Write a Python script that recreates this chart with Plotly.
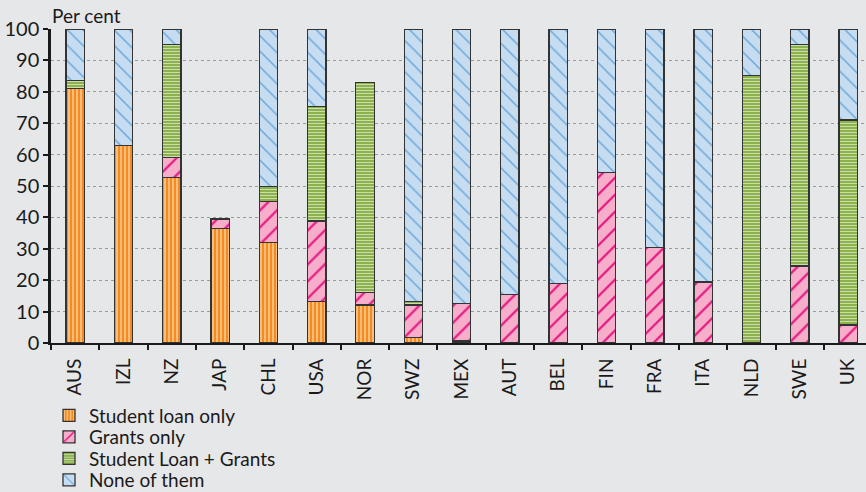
import plotly.graph_objects as go

countries = ["AUS", "IZL", "NZ", "JAP", "CHL", "USA", "NOR", "SWZ", "MEX",
             "AUT", "BEL", "FIN", "FRA", "ITA", "NLD", "SWE", "UK"]
loan_only = [81, 63, 52.8, 36.5, 32, 13.2, 12.1, 1.8, 0.6, 0, 0, 0, 0, 0, 0, 0, 0]
grants_only = [0, 0, 6.2, 3, 13, 25.7, 3.9, 10.3, 12, 15.5, 19, 54.4, 30.4, 19.4, 0, 24.5, 5.7]
loan_grants = [2.6, 0, 36, 0, 4.9, 36.5, 67, 1.2, 0, 0, 0, 0, 0, 0, 85.2, 70.5, 65.3]
none_of_them = [16.4, 37, 5, 0, 50.1, 24.6, 0, 86.7, 87.4, 84.5, 81, 45.6, 69.6, 80.6, 14.8, 5, 29]
y_ticks = [0, 10, 20, 30, 40, 50, 60, 70, 80, 90, 100]

series = [
    ("Student loan only", loan_only, "#F58B1F", "#FCD2A4", "|", 4, 0.35),
    ("Grants only", grants_only, "#F6AECB", "#E4157F", "/", 12, 0.18),
    ("Student Loan + Grants", loan_grants, "#7FA83C", "#CBDEA8", "-", 3, 0.45),
    ("None of them", none_of_them, "#C6DCF0", "#6AA6D8", "\\", 11, 0.13),
]

FONT = "Lato, 'Open Sans', sans-serif"
H = 492
legend_rows = [415.5, 437, 458.5, 480]
legend_names = ["legend", "legend2", "legend3", "legend4"]

fig = go.Figure()
legend_layout = {}
for i, (name, vals, bg, fg, shape, size, sol) in enumerate(series):
    fig.add_trace(go.Bar(
        x=countries,
        y=[v if v else None for v in vals],
        name=name,
        width=0.38,
        legend=legend_names[i],
        marker=dict(
            color=bg,
            line=dict(color="#333333", width=1.3),
            pattern=dict(shape=shape, fgcolor=fg, bgcolor=bg, size=size,
                         solidity=sol, fillmode="replace"),
        ),
    ))
    legend_layout[legend_names[i]] = dict(
        orientation="v",
        x=49 / 866, xanchor="left", xref="container",
        y=1 - legend_rows[i] / H, yanchor="middle", yref="container",
        font=dict(size=19, family=FONT, color="#1a1a1a"),
        bgcolor="rgba(0,0,0,0)", itemwidth=30,
    )

fig.update_layout(
    width=866, height=H,
    barmode="stack",
    paper_bgcolor="#E6E7E9",
    plot_bgcolor="#E6E7E9",
    margin=dict(l=51, r=0, t=29, b=149, autoexpand=False),
    font=dict(family=FONT, size=19, color="#1a1a1a"),
    showlegend=True,
    xaxis=dict(
        range=[-0.5, 16.37],
        tickangle=-90,
        ticks="outside", tickson="boundaries", ticklen=5, tickwidth=2,
        tickcolor="#1a1a1a", ticklabelstandoff=6,
        showline=True, linecolor="#1a1a1a", linewidth=2,
        showgrid=False,
        tickfont=dict(size=19, family=FONT),
    ),
    yaxis=dict(
        range=[0, 100],
        tickvals=y_ticks,
        ticks="outside", ticklen=5, tickwidth=2, tickcolor="#1a1a1a",
        showline=True, linecolor="#1a1a1a", linewidth=2.5,
        showgrid=True, gridcolor="#9a9a9a", griddash="dot", gridwidth=1.3,
        zeroline=False,
        tickfont=dict(size=20, family=FONT),
    ),
    annotations=[dict(
        text="Per cent", xref="paper", yref="paper", x=-0.001, y=1 + 14 / 314,
        xanchor="left", yanchor="middle", showarrow=False,
        font=dict(size=19, family=FONT),
    )],
    **legend_layout,
)

fig.write_html(
    "out.html",
    config={"displayModeBar": False},
    post_script="document.body.style.margin='0';document.body.style.background='#E6E7E9';document.body.style.overflow='hidden';",
)
